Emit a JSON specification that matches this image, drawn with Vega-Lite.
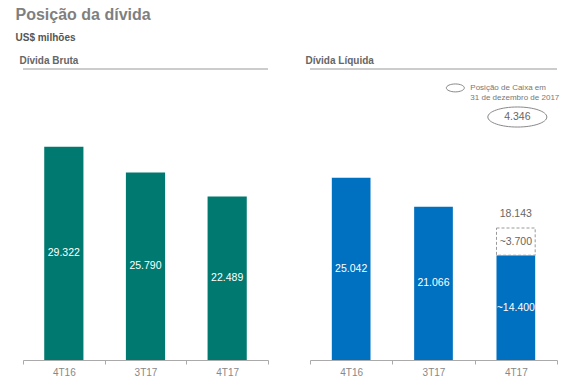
{
  "$schema": "https://vega.github.io/schema/vega-lite/v6.json",
  "padding": {"left": 15, "top": 6, "right": 5, "bottom": 5},
  "background": "white",
  "title": {
    "text": "Posição da dívida",
    "subtitle": "\u00a0\u00a0US$ milhões",
    "anchor": "start",
    "dx": -4,
    "fontSize": 16,
    "fontWeight": "bold",
    "color": "#7f7f7f",
    "subtitleFontSize": 10,
    "subtitleFontWeight": "bold",
    "subtitleColor": "#555555",
    "subtitlePadding": 10,
    "offset": 13
  },
  "config": {
    "view": {"stroke": null},
    "font": "Liberation Sans",
    "axisX": {
      "title": null,
      "labelAngle": 0,
      "labelColor": "#888888",
      "labelFontSize": 10,
      "labelPadding": 3,
      "domainColor": "#aaaaaa",
      "ticks": true,
      "tickColor": "#aaaaaa",
      "tickSize": 4,
      "tickBand": "extent",
      "tickExtra": true,
      "grid": false
    }
  },
  "datasets": {
    "bruta": [
      {"q": "4T16", "v": 29322, "label": "29.322"},
      {"q": "3T17", "v": 25790, "label": "25.790"},
      {"q": "4T17", "v": 22489, "label": "22.489"}
    ],
    "liquida": [
      {"q": "4T16", "v": 25042, "label": "25.042"},
      {"q": "3T17", "v": 21066, "label": "21.066"},
      {"q": "4T17", "v": 14400, "label": "~14.400"}
    ],
    "caixa": [
      {"q": "4T17", "lo": 14400, "hi": 18143, "label": "~3.700", "total": "18.143"}
    ],
    "one": [{"t": 1}]
  },
  "spacing": 36,
  "hconcat": [
    {
      "width": 245,
      "height": 291,
      "title": {"text": "Dívida Bruta", "anchor": "start", "dx": -3, "fontSize": 10, "fontWeight": "bold", "color": "#666666", "offset": -5, "baseline": "alphabetic"},
      "layer": [
        {
          "data": {"name": "bruta"},
          "mark": {"type": "bar", "color": "#007A70", "width": {"band": 0.48}},
          "encoding": {
            "x": {"field": "q", "type": "nominal", "sort": null, "scale": {"paddingInner": 0, "paddingOuter": 0}},
            "y": {"field": "v", "type": "quantitative", "scale": {"domain": [0, 40000], "nice": false}, "axis": null}
          }
        },
        {
          "data": {"name": "one"},
          "mark": {"type": "rule", "color": "#999999", "strokeWidth": 1},
          "encoding": {
            "y": {"datum": 40000, "type": "quantitative", "scale": {"domain": [0, 40000], "nice": false}, "axis": null}
          }
        },
        {
          "data": {"name": "bruta"},
          "mark": {"type": "text", "color": "white", "fontSize": 10.5},
          "encoding": {
            "x": {"field": "q", "type": "nominal", "sort": null},
            "y": {"field": "v", "type": "quantitative", "scale": {"domain": [0, 80000], "nice": false}, "axis": null},
            "text": {"field": "label"}
          }
        }
      ],
      "resolve": {"scale": {"y": "independent"}}
    },
    {
      "width": 247,
      "height": 291,
      "title": {"text": "Dívida Líquida", "anchor": "start", "dx": -4, "fontSize": 10, "fontWeight": "bold", "color": "#666666", "offset": -5, "baseline": "alphabetic"},
      "layer": [
        {
          "data": {"name": "liquida"},
          "mark": {"type": "bar", "color": "#0070C0", "width": {"band": 0.47}},
          "encoding": {
            "x": {"field": "q", "type": "nominal", "sort": null, "scale": {"paddingInner": 0, "paddingOuter": 0}},
            "y": {"field": "v", "type": "quantitative", "scale": {"domain": [0, 40000], "nice": false}, "axis": null}
          }
        },
        {
          "data": {"name": "one"},
          "mark": {"type": "rule", "color": "#999999", "strokeWidth": 1},
          "encoding": {
            "y": {"datum": 40000, "type": "quantitative", "scale": {"domain": [0, 40000], "nice": false}, "axis": null}
          }
        },
        {
          "data": {"name": "caixa"},
          "mark": {"type": "bar", "fill": "white", "stroke": "#999999", "strokeDash": [3, 2], "strokeWidth": 1, "width": {"band": 0.47}},
          "encoding": {
            "x": {"field": "q", "type": "nominal", "sort": null},
            "y": {"field": "lo", "type": "quantitative", "scale": {"domain": [0, 40000], "nice": false}, "axis": null},
            "y2": {"field": "hi"}
          }
        },
        {
          "data": {"name": "liquida"},
          "mark": {"type": "text", "color": "white", "fontSize": 10.5},
          "encoding": {
            "x": {"field": "q", "type": "nominal", "sort": null},
            "y": {"field": "v", "type": "quantitative", "scale": {"domain": [0, 80000], "nice": false}, "axis": null},
            "text": {"field": "label"}
          }
        },
        {
          "data": {"name": "caixa"},
          "mark": {"type": "text", "color": "#666666", "fontSize": 10.5, "baseline": "alphabetic", "dy": -11},
          "encoding": {
            "x": {"field": "q", "type": "nominal", "sort": null},
            "y": {"field": "hi", "type": "quantitative", "scale": {"domain": [0, 40000], "nice": false}, "axis": null},
            "text": {"field": "total"}
          }
        },
        {
          "data": {"name": "caixa"},
          "mark": {"type": "text", "color": "#666666", "fontSize": 10.5},
          "encoding": {
            "x": {"field": "q", "type": "nominal", "sort": null},
            "y": {"datum": 16270, "type": "quantitative", "scale": {"domain": [0, 40000], "nice": false}, "axis": null},
            "text": {"field": "label"}
          }
        },
        {
          "data": {"name": "one"},
          "mark": {"type": "point", "shape": "M-1,0 A1,0.44 0 1,0 1,0 A1,0.44 0 1,0 -1,0 Z", "size": 324, "filled": false, "color": "#888888", "strokeWidth": 1, "opacity": 1, "xOffset": -60.5},
          "encoding": {
            "x": {"datum": "4T17", "type": "nominal"},
            "y": {"datum": 37400, "type": "quantitative", "scale": {"domain": [0, 40000], "nice": false}, "axis": null}
          }
        },
        {
          "data": {"name": "one"},
          "mark": {"type": "text", "color": "#777777", "fontSize": 8, "align": "left", "lineHeight": 10, "dx": -45.5},
          "encoding": {
            "x": {"datum": "4T17", "type": "nominal"},
            "y": {"datum": 37400, "type": "quantitative", "scale": {"domain": [0, 40000], "nice": false}, "axis": null},
            "text": {"value": ["Posição de Caixa em", "31 de dezembro de 2017"]}
          }
        },
        {
          "data": {"name": "one"},
          "mark": {"type": "point", "shape": "M-1,0 A1,0.34 0 1,0 1,0 A1,0.34 0 1,0 -1,0 Z", "size": 3481, "filled": false, "color": "#888888", "strokeWidth": 1, "opacity": 1, "xOffset": 1.5},
          "encoding": {
            "x": {"datum": "4T17", "type": "nominal"},
            "y": {"datum": 33400, "type": "quantitative", "scale": {"domain": [0, 40000], "nice": false}, "axis": null}
          }
        },
        {
          "data": {"name": "one"},
          "mark": {"type": "text", "color": "#666666", "fontSize": 10.5, "dx": 1.5},
          "encoding": {
            "x": {"datum": "4T17", "type": "nominal"},
            "y": {"datum": 33400, "type": "quantitative", "scale": {"domain": [0, 40000], "nice": false}, "axis": null},
            "text": {"value": "4.346"}
          }
        }
      ],
      "resolve": {"scale": {"y": "independent"}}
    }
  ]
}
